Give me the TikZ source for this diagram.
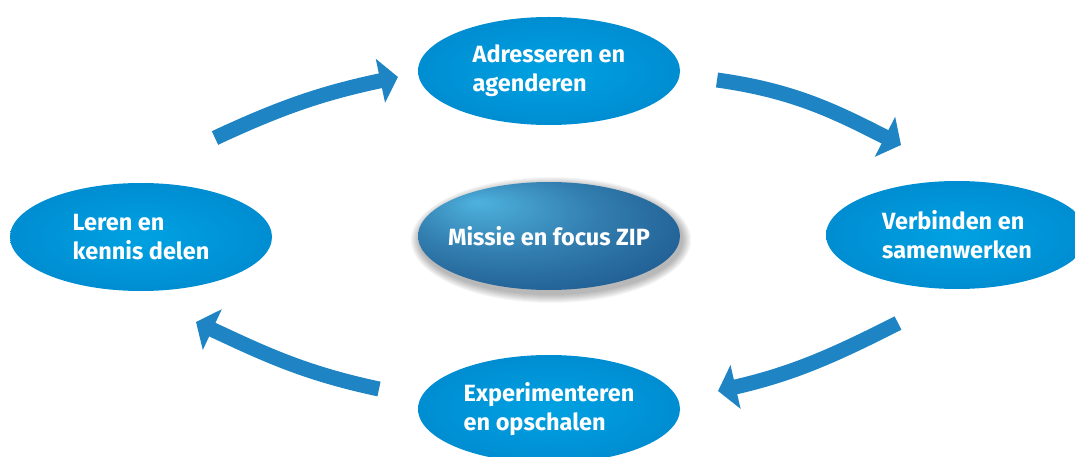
\documentclass[tikz,border=0pt]{standalone}
\usepackage{fontspec}
\setmainfont{Fira Sans}
\usepackage{tikz}
\usetikzlibrary{arrows.meta,shapes.geometric}
\definecolor{ziplight}{RGB}{0,162,226}
\definecolor{zipdark}{RGB}{0,120,193}
\definecolor{zipnavy}{RGB}{16,62,118}
\definecolor{zipsky}{RGB}{78,178,222}
\definecolor{ziparrow}{RGB}{30,132,196}
\pgfdeclareradialshading{zipball}{\pgfpointorigin}{color(0bp)=(ziplight); color(50bp)=(zipdark)}
\pgfdeclareradialshading{zipcore}{\pgfpoint{-14bp}{16bp}}{color(0bp)=(zipsky); color(18bp)=(zipsky!55!zipnavy); color(50bp)=(zipnavy)}

\begin{document}
\begin{tikzpicture}[x=1pt,y=1pt,
  zipnode/.style={ellipse,minimum width=262pt,minimum height=108pt,inner sep=0pt,
    shading=zipball,text=white,align=left,font=\bfseries\fontsize{23.5}{29}\selectfont},
  corenode/.style={zipnode,shading=zipcore,inner xsep=-45pt},
  bigarrow/.style={draw=ziparrow,line width=15pt,-{Triangle[length=18pt,width=44pt]}}]
\useasboundingbox (0,0) rectangle (1075,-457);
\clip (0,0) rectangle (1075,-457);
\foreach \i in {1,...,9}
  \fill [black,opacity=0.035] (551,-240) ellipse ({131+\i} and {54+\i});
\node [corenode] (missie) at (549,-236) {Missie en focus ZIP};
\node [zipnode] (adres) at (549,-71) {Adresseren en\\agenderen};
\node [zipnode] (leren) at (141,-237) {Leren en\\kennis delen};
\node [zipnode] (verbind) at (957,-235) {Verbinden en\\samenwerken};
\node [zipnode] (exper) at (549,-409) {Experimenteren\\en opschalen};
\coordinate (lerenuit) at (215,-138);
\coordinate (adresin) at (398,-77);
\coordinate (adresuit) at (717,-80);
\coordinate (verbindin) at (901,-145);
\coordinate (verbinduit) at (898,-323);
\coordinate (experin) at (718,-391);
\coordinate (experuit) at (379,-389);
\coordinate (lerenin) at (196,-322);
\draw [bigarrow] (lerenuit) to [out=25,in=192] (adresin);
\draw [bigarrow] (adresuit) to [out=-8,in=153] (verbindin);
\draw [bigarrow] (verbinduit) to [out=207,in=13] (experin);
\draw [bigarrow] (experuit) to [out=168,in=-25] (lerenin);
\end{tikzpicture}
\end{document}
